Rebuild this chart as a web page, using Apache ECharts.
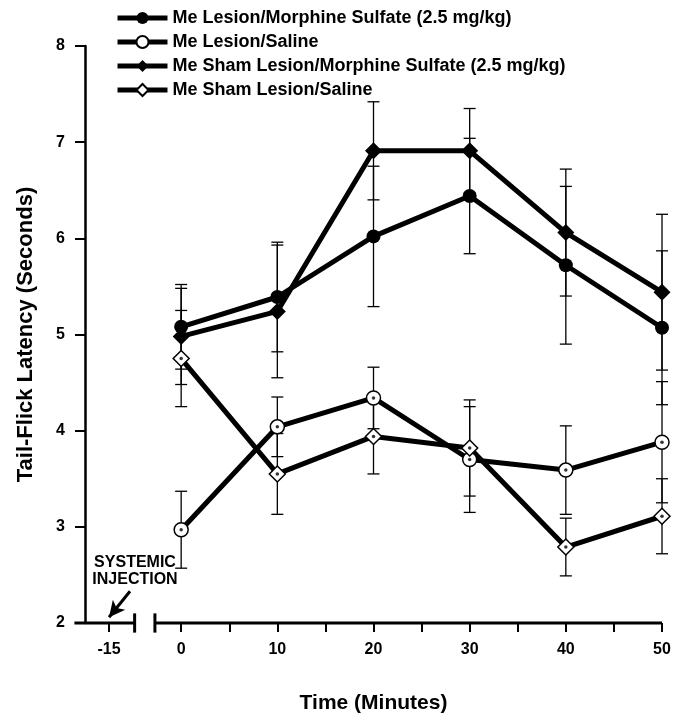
<!DOCTYPE html>
<html>
<head>
<meta charset="utf-8" />
<script src="https://cdn.jsdelivr.net/npm/echarts@6/dist/echarts.min.js"></script>
<style>
  html, body { margin: 0; padding: 0; background: #fff; }
  #chart { width: 674px; height: 721px; }
</style>
</head>
<body>
<div id="chart"></div>
<script>
// minutes after injection
const times = [0, 10, 20, 30, 40, 50];

const lesionMorphine = [5.08, 5.39, 6.02, 6.44, 5.72, 5.07];
const lesionMorphineErr = [0.44, 0.57, 0.73, 0.6, 0.82, 0.8];
const lesionSaline = [2.97, 4.04, 4.34, 3.7, 3.59, 3.88];
const lesionSalineErr = [0.4, 0.31, 0.32, 0.55, 0.46, 0.63];
const shamMorphine = [4.98, 5.24, 6.91, 6.91, 6.06, 5.44];
const shamMorphineErr = [0.5, 0.69, 0.51, 0.44, 0.66, 0.81];
const shamSaline = [4.75, 3.55, 3.94, 3.82, 2.79, 3.11];
const shamSalineErr = [0.5, 0.42, 0.39, 0.5, 0.3, 0.39];

const xLabels = [-15, 0, 10, 20, 30, 40, 50];
const xTicks = [-15, 0, 5, 10, 15, 20, 25, 30, 35, 40, 45, 50];
const yTicks = [2, 3, 4, 5, 6, 7, 8];
const injectionTime = -15;

// the axis is broken between -15 and 0, so -15 sits at -7.5 on the drawn scale
const xPos = (t) => (t < 0 ? t / 2 : t);

const FONT = "Liberation Sans";

const chart = echarts.init(document.getElementById("chart"));

function pairs(ys) {
  return times.map((t, i) => [xPos(t), ys[i]]);
}

function errData(ys, errs) {
  return times.map((t, i) => [xPos(t), ys[i] - errs[i], ys[i] + errs[i]]);
}

function errSeries(ys, errs) {
  return {
    type: "custom",
    z: 1,
    silent: true,
    data: errData(ys, errs),
    renderItem(params, api) {
      const lo = api.coord([api.value(0), api.value(1)]);
      const hi = api.coord([api.value(0), api.value(2)]);
      const w = 6;
      const style = { stroke: "#000", lineWidth: 1.3 };
      return {
        type: "group",
        children: [
          { type: "line", shape: { x1: lo[0], y1: lo[1], x2: hi[0], y2: hi[1] }, style },
          { type: "line", shape: { x1: lo[0] - w, y1: lo[1], x2: lo[0] + w, y2: lo[1] }, style },
          { type: "line", shape: { x1: hi[0] - w, y1: hi[1], x2: hi[0] + w, y2: hi[1] }, style },
        ],
      };
    },
  };
}

function lineSeries(name, ys, symbol, size, open) {
  return {
    name,
    type: "line",
    z: 3,
    data: pairs(ys),
    symbol,
    symbolSize: size,
    showSymbol: true,
    clip: false,
    lineStyle: { color: "#000", width: 5 },
    itemStyle: {
      color: open ? "#fff" : "#000",
      borderColor: "#000",
      borderWidth: open ? 1.5 : 0,
    },
    emphasis: { disabled: true },
  };
}

// small dots in the middle of the open markers
function dotSeries(ys) {
  return {
    type: "scatter",
    z: 4,
    silent: true,
    symbol: "circle",
    symbolSize: 3.5,
    itemStyle: { color: "#000" },
    data: pairs(ys),
  };
}

const axisBreakLeft = -4.84;
const axisBreakRight = -2.73;

// x axis line with the break (segments as [x1, y1, x2, y2])
const axisSegments = [
  [-11.1, 2, axisBreakLeft, 2],
  [axisBreakRight, 2, 50, 2],
  [axisBreakLeft, 1.9, axisBreakLeft, 2.1],
  [axisBreakRight, 1.9, axisBreakRight, 2.1],
];

const axisBreak = {
  type: "custom",
  z: 2,
  silent: true,
  clip: false,
  data: axisSegments,
  renderItem(params, api) {
    const a = api.coord([api.value(0), api.value(1)]);
    const b = api.coord([api.value(2), api.value(3)]);
    return {
      type: "line",
      shape: { x1: a[0], y1: a[1], x2: b[0], y2: b[1] },
      style: { stroke: "#000", lineWidth: 3 },
    };
  },
};

// injection arrow and note
const note = {
  type: "line",
  data: [],
  clip: false,
  silent: true,
  markLine: {
    silent: true,
    symbol: "none",
    animation: false,
    label: { show: false },
    lineStyle: { color: "#000", width: 3, type: "solid" },
    data: [
      [
        { coord: [-5.32, 2.33], symbol: "none" },
        {
          coord: [xPos(injectionTime), 2.06],
          symbol: "arrow",
          symbolSize: [12, 16],
        },
      ],
    ],
  },
  markPoint: {
    silent: true,
    animation: false,
    symbol: "circle",
    symbolSize: 1,
    itemStyle: { color: "rgba(0,0,0,0)" },
    data: [
      {
        coord: [-4.8, 2.54],
        label: {
          show: true,
          position: "inside",
          formatter: "SYSTEMIC\nINJECTION",
          color: "#000",
          fontFamily: FONT,
          fontWeight: "bold",
          fontSize: 16,
          lineHeight: 17,
          align: "center",
        },
      },
    ],
  },
};

const names = [
  "Me Lesion/Morphine Sulfate (2.5 mg/kg)",
  "Me Lesion/Saline",
  "Me Sham Lesion/Morphine Sulfate (2.5 mg/kg)",
  "Me Sham Lesion/Saline",
];

chart.setOption({
  animation: false,
  textStyle: { fontFamily: FONT },
  legend: {
    data: names,
    orient: "vertical",
    left: 110,
    top: 4,
    itemWidth: 50,
    itemHeight: 15,
    itemGap: 6,
    selectedMode: false,
    lineStyle: { width: 5 },
    textStyle: {
      color: "#000",
      fontFamily: FONT,
      fontWeight: "bold",
      fontSize: 18,
    },
  },
  grid: {
    left: 85,
    right: 12,
    top: 46,
    bottom: 98,
  },
  xAxis: {
    type: "value",
    min: -10,
    max: 50,
    name: "Time (Minutes)",
    nameLocation: "middle",
    nameGap: 70,
    nameTextStyle: {
      color: "#000",
      fontFamily: FONT,
      fontWeight: "bold",
      fontSize: 21,
    },
    axisLine: { show: false, onZero: false },
    splitLine: { show: false },
    axisTick: {
      show: true,
      inside: false,
      length: 9,
      customValues: xTicks.map(xPos),
      lineStyle: { color: "#000", width: 2 },
    },
    axisLabel: {
      customValues: xLabels.map(xPos),
      formatter: (v) => (v < 0 ? String(injectionTime) : String(v)),
      margin: 19,
      color: "#000",
      fontFamily: FONT,
      fontWeight: "bold",
      fontSize: 16,
    },
  },
  yAxis: {
    type: "value",
    min: 2,
    max: 8,
    interval: 1,
    name: "Tail-Flick Latency (Seconds)",
    nameLocation: "middle",
    nameRotate: 90,
    nameGap: 48,
    nameTextStyle: {
      color: "#000",
      fontFamily: FONT,
      fontWeight: "bold",
      fontSize: 22,
    },
    axisLine: { show: true, onZero: false, lineStyle: { color: "#000", width: 2.5 } },
    splitLine: { show: false },
    axisTick: {
      show: true,
      inside: false,
      length: 10,
      customValues: yTicks,
      lineStyle: { color: "#000", width: 2 },
    },
    axisLabel: {
      margin: 20,
      color: "#000",
      fontFamily: FONT,
      fontWeight: "bold",
      fontSize: 16,
    },
  },
  series: [
    axisBreak,
    errSeries(lesionMorphine, lesionMorphineErr),
    errSeries(lesionSaline, lesionSalineErr),
    errSeries(shamMorphine, shamMorphineErr),
    errSeries(shamSaline, shamSalineErr),
    lineSeries(names[0], lesionMorphine, "circle", 14, false),
    lineSeries(names[1], lesionSaline, "circle", 14, true),
    lineSeries(names[2], shamMorphine, "diamond", 17, false),
    lineSeries(names[3], shamSaline, "diamond", 16, true),
    dotSeries(lesionSaline),
    dotSeries(shamSaline),
    note,
  ],
});
</script>
</body>
</html>
